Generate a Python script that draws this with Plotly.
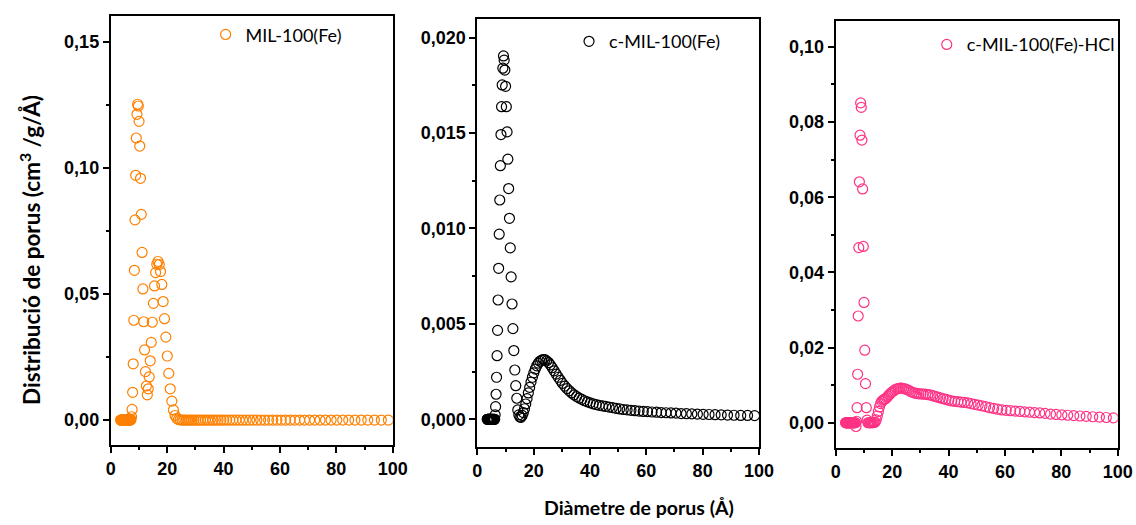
import plotly.graph_objects as go

# Pore diameter grid (Å) shared by the three DFT distributions
pore_diameter = [
    3.50, 3.59, 3.68, 3.78, 3.88, 3.98, 4.08, 4.19, 4.30, 4.41,
    4.52, 4.64, 4.76, 4.89, 5.02, 5.15, 5.28, 5.42, 5.56, 5.70,
    5.85, 6.00, 6.16, 6.32, 6.48, 6.65, 6.82, 7.00, 7.18, 7.37,
    7.56, 7.76, 7.96, 8.17, 8.38, 8.60, 8.82, 9.05, 9.28, 9.52,
    9.77, 10.03, 10.29, 10.55, 10.83, 11.11, 11.40, 11.69, 12.00, 12.31,
    12.63, 12.96, 13.30, 13.64, 14.00, 14.36, 14.73, 15.12, 15.51, 15.91,
    16.33, 16.75, 17.19, 17.64, 18.10, 18.57, 19.05, 19.54, 20.05, 20.57,
    21.10, 21.66, 22.22, 22.80, 23.39, 24.00, 24.62, 25.26, 25.92, 26.59,
    27.28, 27.99, 28.72, 29.47, 30.23, 31.02, 31.82, 32.65, 33.50, 34.37,
    35.26, 36.18, 37.12, 38.08, 39.07, 40.09, 41.13, 42.20, 43.30, 44.42,
    45.58, 46.77, 47.98, 49.23, 50.51, 51.82, 53.17, 54.55, 55.97, 57.43,
    58.92, 60.45, 62.02, 63.64, 65.29, 66.99, 68.73, 70.52, 72.35, 74.23,
    76.16, 78.14, 80.17, 82.26, 84.40, 86.59, 88.84, 91.15, 93.52, 95.95,
    98.45,
]

# Pore size distribution, cm3/g/Å
mil100 = [
    0, 0, 0, 0, 0, 0, 0, 0, 0, 0,
    0, 0, 0, 0, 0, 0, 0, 0, 0, 0,
    0, 0, 0, 0, 0, 0, 0, 0, 0.0002, 0.0013,
    0.0042, 0.0110, 0.0223, 0.0396, 0.0594, 0.0794, 0.0971, 0.1119, 0.1213, 0.1253,
    0.1246, 0.1185, 0.1087, 0.0959, 0.0816, 0.0665, 0.0520, 0.0390, 0.0278, 0.0192,
    0.0135, 0.0100, 0.0124, 0.0171, 0.0235, 0.0308, 0.0388, 0.0463, 0.0532, 0.0585,
    0.0618, 0.0629, 0.0617, 0.0589, 0.0538, 0.0470, 0.0402, 0.0329, 0.0254, 0.0185,
    0.0124, 0.0075, 0.0040, 0.0018, 0.0007, 0.0002, 0.0001, 0, 0, 0,
    0, 0, 0, 0, 0, 0, 0, 0, 0, 0,
    0, 0, 0, 0, 0, 0, 0, 0, 0, 0,
    0, 0, 0, 0, 0, 0, 0, 0, 0, 0,
    0, 0, 0, 0, 0, 0, 0, 0, 0, 0,
    0, 0, 0, 0, 0, 0, 0, 0, 0, 0,
    0,
]

c_mil100 = [
    0, 0, 0, 0, 0, 0, 0, 0, 0, 0,
    0, 0, 0, 0, 0, 0, 0, 0, 0, 0,
    0, 0, 0, 0.00023, 0.00066, 0.00131, 0.0022, 0.00333, 0.00466, 0.00625,
    0.00791, 0.0097, 0.01149, 0.01329, 0.01492, 0.01638, 0.01752, 0.0184, 0.01904, 0.01882,
    0.0183, 0.01745, 0.01638, 0.01506, 0.01363, 0.01209, 0.01053, 0.00898, 0.00746, 0.00604,
    0.00475, 0.0036, 0.00258, 0.00176, 0.0011, 0.00049, 0.00023, 0.00012, 0.0001, 0.0002,
    0.00035, 0.00055, 0.0008, 0.00108, 0.00138, 0.00167, 0.00195, 0.0022, 0.00243, 0.00263,
    0.0028, 0.00294, 0.00304, 0.0031, 0.00313, 0.00312, 0.00306, 0.00297, 0.00285, 0.0027,
    0.00254, 0.00237, 0.0022, 0.00204, 0.00188, 0.00174, 0.00161, 0.00149, 0.00138, 0.00128,
    0.00119, 0.00111, 0.00104, 0.00097, 0.00091, 0.00086, 0.00081, 0.00077, 0.00073, 0.0007,
    0.00067, 0.00064, 0.00061, 0.00057, 0.00054, 0.00051, 0.00049, 0.00047, 0.00045, 0.00043,
    0.00041, 0.0004, 0.00038, 0.00037, 0.00035, 0.00034, 0.00033, 0.00032, 0.0003, 0.00029,
    0.00028, 0.00027, 0.00026, 0.00025, 0.00024, 0.00023, 0.00022, 0.00021, 0.0002, 0.0002,
    0.00019,
]

c_mil100_hcl = [
    0, 0, 0, 0, 0, 0, 0, 0, 0, 0,
    0, 0, 0, 0, 0, 0, 0, 0, 0, 0,
    0, 0, 0, 0, 0, 0, 0, 0, -0.001, 0.0004,
    0.0040, 0.0129, 0.0284, 0.0466, 0.0641, 0.0765, 0.0851, 0.0839, 0.0752, 0.0622,
    0.0469, 0.0320, 0.0193, 0.0104, 0.0040, 0.0007, 0, 0, 0, 0,
    0, 0, 0, 0.0001, 0.0002, 0.0008, 0.0018, 0.0030, 0.0042, 0.0051,
    0.0057, 0.0060, 0.0062, 0.0064, 0.0067, 0.0071, 0.0075, 0.0079, 0.0082, 0.0085,
    0.0088, 0.0090, 0.0091, 0.0092, 0.0092, 0.0091, 0.0090, 0.0088, 0.0086, 0.0083,
    0.0081, 0.0079, 0.0078, 0.0077, 0.0077, 0.0076, 0.0076, 0.0075, 0.0074, 0.0072,
    0.0070, 0.0068, 0.0066, 0.0064, 0.0062, 0.0060, 0.0058, 0.0057, 0.0056, 0.0055,
    0.0054, 0.0053, 0.0051, 0.0049, 0.0047, 0.0045, 0.0043, 0.0040, 0.0038, 0.0036,
    0.0034, 0.0033, 0.0032, 0.0031, 0.0030, 0.0029, 0.0028, 0.0027, 0.0026, 0.0025,
    0.0023, 0.0022, 0.0021, 0.0020, 0.0019, 0.0018, 0.0017, 0.0016, 0.0015, 0.0014,
    0.0013,
]

sample_names = ["MIL-100(Fe)", "c-MIL-100(Fe)", "c-MIL-100(Fe)-HCl"]
sample_values = [mil100, c_mil100, c_mil100_hcl]
sample_colors = ["#FF8000", "#000000", "#FF3385"]

y_ranges = [[-0.0099, 0.1603], [-0.00147, 0.02096], [-0.0068, 0.1068]]
y_dticks = [0.05, 0.005, 0.02]
y_formats = [".2f", ".3f", ".2f"]

x_domains = [[0.0975, 0.3457], [0.4202, 0.6681], [0.7357, 0.9839]]
y_domains = [[0.1524, 0.9695], [0.1480, 0.9632], [0.1461, 0.9594]]
legend_pos = [(0.181, 0.969), (0.5009, 0.956), (0.8158, 0.950)]

TICK_FONT = dict(family="Liberation Sans, Arial, sans-serif", size=18, color="black", weight="bold")
TEXT_FONT = "Lato, Carlito, Calibri, sans-serif"

fig = go.Figure()
layout = dict(
    width=1136, height=525,
    margin=dict(l=0, r=0, t=0, b=0, autoexpand=False),
    paper_bgcolor="white", plot_bgcolor="white",
    separators=", ",
    showlegend=True,
)

for i, (name, vals, color) in enumerate(zip(sample_names, sample_values, sample_colors)):
    n = "" if i == 0 else str(i + 1)
    legend_key = "legend" + n
    fig.add_trace(go.Scatter(
        x=pore_diameter, y=vals, mode="markers", name=name,
        xaxis="x" + n, yaxis="y" + n, legend=legend_key,
        marker=dict(symbol="circle-open", size=10, color=color, line=dict(width=1.2, color=color)),
    ))
    layout["xaxis" + n] = dict(
        domain=x_domains[i], anchor="y" + n, range=[0, 100],
        tick0=0, dtick=20, ticks="outside", ticklen=6, tickwidth=2, tickcolor="black",
        minor=dict(dtick=10, ticks="outside", ticklen=3, tickwidth=1.5, tickcolor="black"),
        showline=True, linewidth=2, linecolor="black", mirror=True,
        showgrid=False, zeroline=False, tickfont=TICK_FONT,
    )
    layout["yaxis" + n] = dict(
        domain=y_domains[i], anchor="x" + n, range=y_ranges[i],
        tick0=0, dtick=y_dticks[i], tickformat=y_formats[i],
        ticks="outside", ticklen=6, tickwidth=2, tickcolor="black",
        minor=dict(dtick=y_dticks[i] / 2, ticks="outside", ticklen=3, tickwidth=1.5, tickcolor="black"),
        showline=True, linewidth=2, linecolor="black", mirror=True,
        showgrid=False, zeroline=False, tickfont=TICK_FONT,
    )
    layout[legend_key] = dict(
        x=legend_pos[i][0], y=legend_pos[i][1], xanchor="left", yanchor="top",
        bgcolor="rgba(0,0,0,0)", borderwidth=0,
        font=dict(family=TEXT_FONT, size=18, color="black"),
    )

layout["annotations"] = [
    dict(text="Diàmetre de porus (Å)", x=639 / 1136, y=1 - 507 / 525, xref="paper", yref="paper",
         showarrow=False, xanchor="center", yanchor="middle",
         font=dict(family=TEXT_FONT, size=19.5, color="black", weight="bold")),
    dict(text="Distribució de porus (cm<sup>3</sup> /g/Å)", x=30 / 1136, y=1 - 250 / 525,
         xref="paper", yref="paper", showarrow=False, textangle=-90,
         xanchor="center", yanchor="middle",
         font=dict(family=TEXT_FONT, size=22.5, color="black", weight="bold")),
]

fig.update_layout(**layout)
fig.write_html("out.html")
